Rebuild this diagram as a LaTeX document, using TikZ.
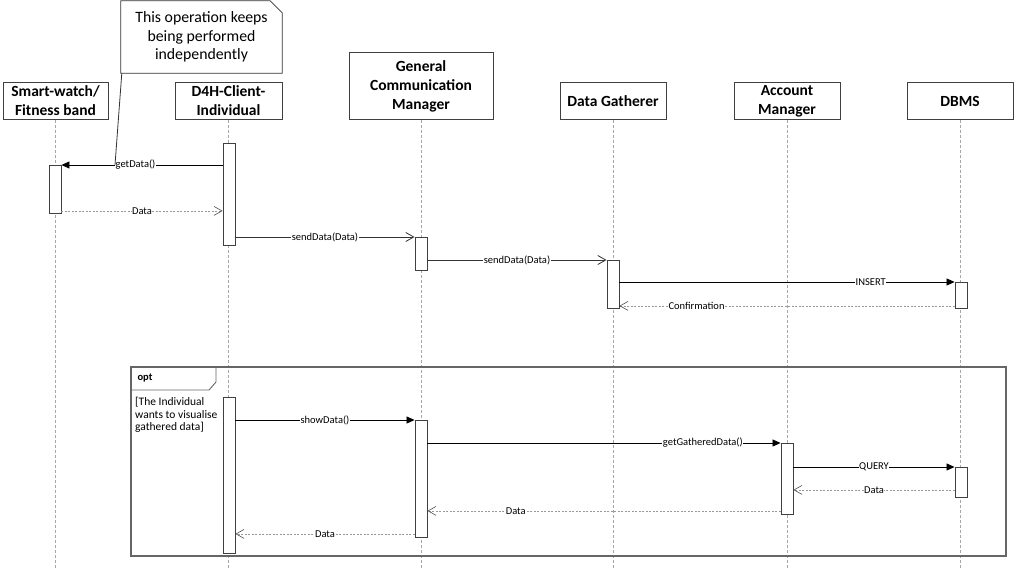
\documentclass[tikz,border=0pt]{standalone}
\usepackage{fontspec}
\setmainfont{Carlito}
\usetikzlibrary{arrows.meta, positioning}

\begin{document}
\begin{tikzpicture}[x=1pt, y=-1pt,
    actor/.style={draw=black!75, line width=1pt, fill=white, align=center, inner sep=0pt,
        minimum width=106pt, minimum height=37pt, anchor=south, font=\fontsize{15.5}{19}\selectfont\bfseries},
    lifeline/.style={draw=black!35, dashed, dash pattern=on 3pt off 2pt, line width=0.6pt},
    act/.style={draw=black!75, line width=0.9pt, fill=white, minimum width=12pt, inner sep=0pt, anchor=north},
    call/.style={draw=black, line width=0.8pt, -{Triangle[length=8pt, width=7pt]}},
    async/.style={draw=black!80, line width=0.8pt, -{Straight Barb[length=8pt, width=9pt]}},
    reply/.style={draw=black!40, dashed, dash pattern=on 2pt off 1.5pt, line width=0.6pt,
        -{Straight Barb[length=8pt, width=9pt, black!70]}},
    msg/.style={fill=white, inner sep=0.5pt, font=\fontsize{10.5}{12}\selectfont},
    notebox/.style={draw=black!80, line width=0.8pt, fill=white},
    frame/.style={draw=black!60, line width=1.1pt}]
    \useasboundingbox (0,0) rectangle (1016,569);

    % Lifeline heads
    \node[actor, minimum width=105pt] (sw) at (55.5,120) {Smart-watch/\\Fitness band};
    \node[actor, minimum width=107pt] (ci) at (228.5,120) {D4H-Client-\\Individual};
    \node[actor, minimum width=144pt, minimum height=67pt] (gc) at (421,120) {General\\Communication\\Manager};
    \node[actor] (dg) at (613,120) {Data Gatherer};
    \node[actor] (am) at (787,120) {Account\\Manager};
    \node[actor] (db) at (960,120) {DBMS};

    % Lifelines
    \foreach \p in {sw, ci, gc, dg, am, db}
        \draw[lifeline] (\p.south) -- (\p.south |- 0,569);

    % Option frame
    \draw[frame] (131,367) rectangle (1006,556);
    \draw[frame, line width=0.9pt] (131,390) -- (209,390) -- (216,382) -- (216,367);
    \node[anchor=west, font=\fontsize{10.5}{12}\selectfont\bfseries] (opt) at (134,378.5) {opt};
    \node[anchor=north west, align=left, inner sep=0pt, font=\fontsize{11.5}{12.5}\selectfont] (guard) at (135,397)
        {[The Individual\\wants to visualise\\gathered data]};

    % Activations
    \node[act, minimum height=102pt] (ci1) at (229,143) {};
    \node[act, minimum height=48pt] (sw1) at (55,165) {};
    \node[act, minimum height=33pt] (gc1) at (421,237) {};
    \node[act, minimum height=48pt] (dg1) at (613,260) {};
    \node[act, minimum height=26pt] (db1) at (961,282) {};
    \node[act, minimum height=156pt] (ci2) at (229,397) {};
    \node[act, minimum height=117pt] (gc2) at (421,420) {};
    \node[act, minimum height=71pt] (am1) at (787,443) {};
    \node[act, minimum height=30pt] (db2) at (961,467) {};

    % Messages
    \draw[call] (ci1.west |- sw1.north) -- node[msg, pos=0.54] {getData()} (sw1.north east);
    \draw[reply] ([yshift=3pt]sw1.south east) coordinate (r1) -- node[msg] {Data} (ci1.west |- r1);
    \draw[async] (ci1.east |- gc1.north) -- node[msg] {sendData(Data)} (gc1.north west);
    \draw[async] (gc1.east |- dg1.north) -- node[msg] {sendData(Data)} (dg1.north west);
    \draw[call] (dg1.east |- db1.north) -- node[msg, pos=0.75] {INSERT} (db1.north west);
    \draw[reply] ([yshift=3pt]db1.south west) coordinate (r2) -- node[msg, pos=0.77] {Confirmation} (dg1.east |- r2);
    \draw[call] (ci2.east |- gc2.north) -- node[msg] {showData()} (gc2.north west);
    \draw[call] (gc2.east |- am1.north) -- node[msg, pos=0.78] {getGatheredData()} (am1.north west);
    \draw[call] (am1.east |- db2.north) -- node[msg] {QUERY} (db2.north west);
    \draw[reply] ([yshift=8pt]db2.south west) coordinate (r3) -- node[msg] {Data} (am1.east |- r3);
    \draw[reply] ([yshift=4pt]am1.south west) coordinate (r4) -- node[msg, pos=0.75] {Data} (gc2.east |- r4);
    \draw[reply] ([yshift=4pt]gc2.south west) coordinate (r5) -- node[msg] {Data} (ci2.east |- r5);

    % Note
    \node[minimum width=161pt, minimum height=72pt, inner sep=0pt] (nt) at (201.5,37) {};
    \draw[notebox] (nt.south west) -- (nt.north west) -- ([xshift=-12pt]nt.north east)
        -- ([yshift=-12pt]nt.north east) -- (nt.south east) -- cycle;
    \node[align=center, font=\fontsize{15.8}{18.5}\selectfont] (ntxt) at (nt.center) {This operation keeps\\being performed\\independently};
    \coordinate (nt-end) at (115,165);
    \draw[draw=black!80, line width=0.8pt] ([xshift=1pt]nt.south west) -- (nt-end);
\end{tikzpicture}
\end{document}
